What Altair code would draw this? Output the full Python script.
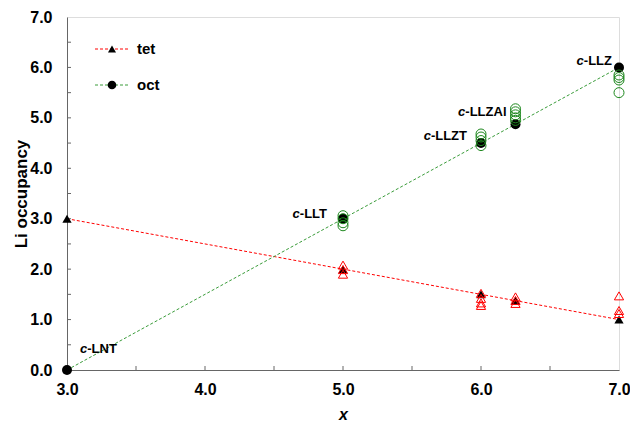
import altair as alt
import pandas as pd

# ---- data ----
x_vals = [3.0, 5.0, 6.0, 6.25, 7.0]
tet_vals = [3.0, 2.0, 1.5, 1.375, 1.0]
oct_vals = [0.0, 3.0, 4.5, 4.875, 6.0]

tet_open_x = [5, 5, 5, 6, 6, 6, 6, 6.25, 6.25, 6.25, 7, 7, 7]
tet_open_y = [2.08, 1.99, 1.9, 1.52, 1.42, 1.33, 1.28, 1.45, 1.38, 1.32, 1.47, 1.18, 1.12]

oct_open_x = [5, 5, 5, 5, 6, 6, 6, 6, 6.25, 6.25, 6.25, 6.25, 6.25, 7, 7, 7, 7]
oct_open_y = [3.06, 3.0, 2.92, 2.86, 4.68, 4.62, 4.55, 4.45, 5.18, 5.12, 5.06, 5.0, 4.95, 5.85, 5.8, 5.75, 5.5]

label_names = ["LNT", "LLT", "LLZT", "LLZAl", "LLZ"]
label_x = [3.0, 5.0, 6.0, 6.25, 7.0]
label_y = [0.0, 3.0, 4.5, 4.875, 6.0]

x_ticks = [3.0, 4.0, 5.0, 6.0, 7.0]
y_ticks = [0.0, 1.0, 2.0, 3.0, 4.0, 5.0, 6.0, 7.0]
x_minor = [3.5, 4.0, 4.5, 5.0, 5.5, 6.0, 6.5]
y_minor = [0.5, 1.0, 1.5, 2.0, 2.5, 3.0, 3.5, 4.0, 4.5, 5.0, 5.5, 6.0, 6.5]

RED = "#ff0000"
GREEN_LINE = "#3a9c3a"
GREEN = "#1e881e"
FRAME = "#666666"
FONT = "Liberation Sans"
W, H = 552, 353

xs = alt.Scale(domain=[3, 7], nice=False, zero=False)
ys = alt.Scale(domain=[0, 7], nice=False)

x_axis = alt.Axis(
    values=x_ticks, format=".1f", title="x", tickSize=0, grid=False,
    labelFont=FONT, labelFontSize=16, labelFontWeight="bold", labelColor="black",
    labelPadding=11, labelFlush=False,
    titleFont=FONT, titleFontSize=16, titleFontWeight="bold", titleFontStyle="italic",
    titleColor="black", titleBaseline="middle", titleY=44,
    domainColor=FRAME)
y_axis = alt.Axis(
    values=y_ticks, format=".1f", title="Li occupancy", tickSize=0, grid=False,
    labelFont=FONT, labelFontSize=16, labelFontWeight="bold", labelColor="black",
    labelPadding=15, labelFlush=False,
    titleFont=FONT, titleFontSize=17, titleFontWeight="bold", titleColor="black",
    titleAngle=270, titleBaseline="middle", titleX=-46, titleY=H / 2,
    domainColor=FRAME)

X = alt.X("x:Q", scale=xs, axis=x_axis)
Y = alt.Y("y:Q", scale=ys, axis=y_axis)

tet_df = pd.DataFrame({"x": x_vals, "y": tet_vals})
oct_df = pd.DataFrame({"x": x_vals, "y": oct_vals})
tet_open = pd.DataFrame({"x": tet_open_x, "y": tet_open_y})
oct_open = pd.DataFrame({"x": oct_open_x, "y": oct_open_y})

layers = []

layers.append(alt.Chart(tet_df).mark_line(color=RED, strokeDash=[3, 2], strokeWidth=1).encode(x=X, y=Y))
layers.append(alt.Chart(oct_df).mark_line(color=GREEN_LINE, strokeDash=[3, 2], strokeWidth=1).encode(x=X, y=Y))

# inward minor ticks
xt = pd.DataFrame({"x": x_minor})
yt = pd.DataFrame({"y": y_minor})
layers.append(alt.Chart(xt).mark_rule(color=FRAME, strokeWidth=1).encode(
    x=X, y=alt.value(H), y2=alt.value(H - 4)))
layers.append(alt.Chart(yt).mark_rule(color=FRAME, strokeWidth=1).encode(
    y=Y, x=alt.value(0), x2=alt.value(4)))

layers.append(alt.Chart(tet_df).mark_point(shape="triangle-up", filled=True, color="black", size=85, opacity=1).encode(x=X, y=Y))
layers.append(alt.Chart(oct_df).mark_point(shape="circle", filled=True, color="black", size=100, opacity=1).encode(x=X, y=Y))

layers.append(alt.Chart(tet_open).mark_point(shape="triangle-up", filled=False, color=RED, size=85, strokeWidth=1, opacity=1).encode(x=X, y=Y))
layers.append(alt.Chart(oct_open).mark_point(shape="circle", filled=False, color=GREEN, size=100, strokeWidth=1, opacity=1).encode(x=X, y=Y))

# labels: italic "c" + bold rest
bold_w = {"-": 333, "L": 611, "Z": 611, "A": 722, "l": 278, "T": 611, "N": 722}
LFS = 13
c_w = 556 * LFS / 1000.0
offs = {"LNT": ("left", 13, -21), "LLT": ("right", -15, -5), "LLZT": ("right", -14, -7),
        "LLZAl": ("right", -9, -12), "LLZ": ("right", -7, -6)}
for name, lx, ly in zip(label_names, label_x, label_y):
    rest = "-" + name
    rw = sum(bold_w[ch] for ch in rest) * LFS / 1000.0
    mode, off, dy = offs[name]
    left = off if mode == "left" else off - rw - c_w
    d = pd.DataFrame({"x": [lx], "y": [ly]})
    layers.append(alt.Chart(d).mark_text(text="c", align="left", baseline="middle", dx=left, dy=dy,
                                         font=FONT, fontSize=LFS, fontWeight="bold", fontStyle="italic",
                                         color="black").encode(x=X, y=Y))
    layers.append(alt.Chart(d).mark_text(text=rest, align="left", baseline="middle", dx=left + c_w, dy=dy,
                                         font=FONT, fontSize=LFS, fontWeight="bold",
                                         color="black").encode(x=X, y=Y))

# legend (manual)
one = pd.DataFrame({"k": [0]})
for ly_, col, shape, lab, sz in [(32, RED, "triangle-up", "tet", 65), (68, GREEN_LINE, "circle", "oct", 75)]:
    layers.append(alt.Chart(one).mark_rule(color=col, strokeDash=[3, 2], strokeWidth=1).encode(
        x=alt.value(28), x2=alt.value(62), y=alt.value(ly_)))
    layers.append(alt.Chart(one).mark_point(shape=shape, filled=True, color="black", size=sz, opacity=1).encode(
        x=alt.value(45), y=alt.value(ly_)))
    layers.append(alt.Chart(one).mark_text(text=lab, align="left", baseline="middle", font=FONT,
                                           fontSize=15, fontWeight="bold", color="black").encode(
        x=alt.value(70), y=alt.value(ly_)))

chart = alt.layer(*layers).properties(
    width=W, height=H,
    autosize=alt.AutoSizeParams(type="none"),
    padding={"left": 59, "top": 9, "right": 11, "bottom": 52},
).configure_view(stroke=FRAME, strokeWidth=1).configure(background="white")

chart.save("out.html", embed_options={"renderer": "svg", "actions": False})
